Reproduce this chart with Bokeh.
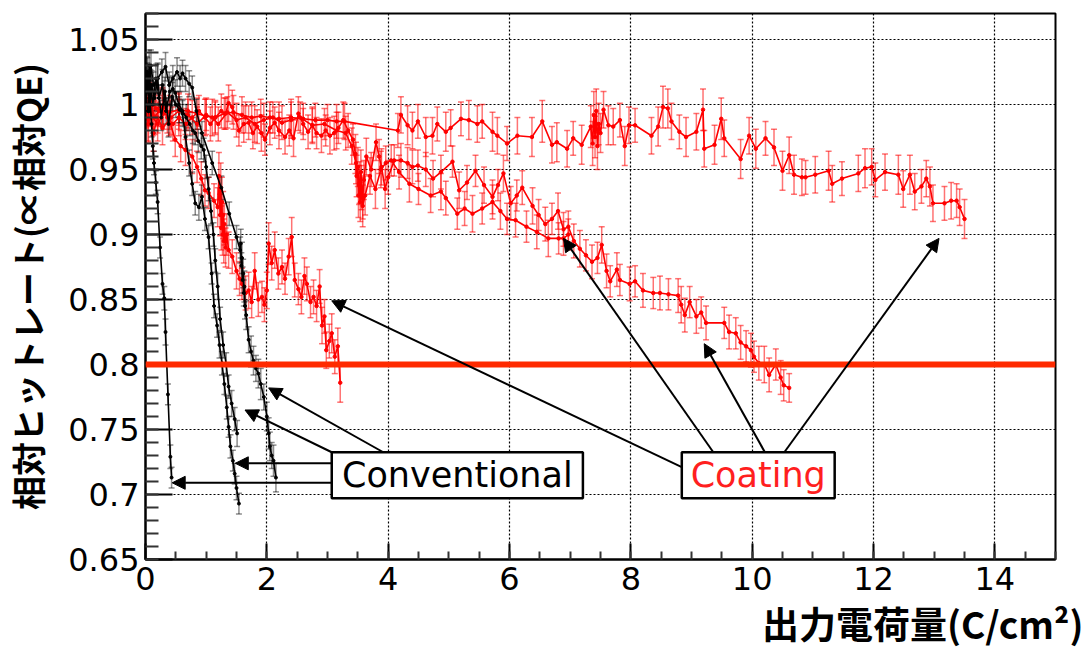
import math
from bokeh.plotting import figure
from bokeh.models import (ColumnDataSource, Whisker, TeeHead, Span, Arrow, NormalHead,
                          Label, BoxAnnotation, SingleIntervalTicker, CustomJSTickFormatter, Title)
from bokeh.embed import file_html
from bokeh.resources import INLINE

# ---------------- data ----------------
X_RANGE = (0, 15)
Y_RANGE = (0.65, 1.07)
THRESHOLD = 0.8

# Conventional (black)
b1_x = [0.00, 0.02, 0.04, 0.06, 0.08, 0.10, 0.12, 0.14, 0.17, 0.20,
        0.24, 0.28, 0.31, 0.33, 0.37, 0.41, 0.43]
b1_y = [1.005, 1.025, 1.010, 1.030, 1.000, 0.985, 0.968, 0.955, 0.940, 0.925,
        0.890, 0.862, 0.851, 0.825, 0.777, 0.729, 0.713]
b1_e = [0.010, 0.012, 0.010, 0.012, 0.010, 0.010, 0.010, 0.009, 0.009, 0.009,
        0.008, 0.008, 0.009, 0.010, 0.008, 0.009, 0.008]

b2_x = [0.00, 0.03, 0.06, 0.10, 0.15, 0.20, 0.26, 0.32, 0.38, 0.44,
        0.50, 0.56, 0.61, 0.66, 0.72, 0.77, 0.82, 0.88, 0.93, 0.98,
        1.04, 1.09, 1.13, 1.18, 1.22, 1.26, 1.30, 1.34, 1.37, 1.40,
        1.44, 1.47, 1.50, 1.54]
b2_y = [1.000, 1.020, 0.995, 1.015, 1.005, 1.020, 0.990, 1.010, 0.985, 1.006,
        1.000, 0.996, 0.993, 0.975, 0.955, 0.939, 0.924, 0.921, 0.929, 0.912,
        0.898, 0.870, 0.845, 0.830, 0.815, 0.801, 0.785, 0.767, 0.752, 0.737,
        0.726, 0.716, 0.705, 0.693]
b2_e = [0.010, 0.012, 0.010, 0.011, 0.010, 0.012, 0.010, 0.011, 0.010, 0.011,
        0.010, 0.010, 0.010, 0.009, 0.010, 0.009, 0.009, 0.010, 0.009, 0.009,
        0.009, 0.008, 0.009, 0.009, 0.010, 0.009, 0.008, 0.009, 0.008, 0.009,
        0.008, 0.008, 0.009, 0.008]

b3_x = [0.00, 0.04, 0.08, 0.12, 0.17, 0.22, 0.28, 0.34, 0.40, 0.45,
        0.49, 0.55, 0.61, 0.67, 0.73, 0.78, 0.82, 0.87, 0.92, 0.96,
        1.00, 1.04, 1.08, 1.12, 1.15, 1.19, 1.23, 1.28, 1.33, 1.37,
        1.42, 1.47, 1.51]
b3_y = [1.010, 0.995, 1.015, 1.000, 1.020, 1.005, 1.015, 0.995, 1.010, 1.012,
        1.009, 1.000, 0.995, 0.990, 0.985, 0.980, 0.978, 0.972, 0.968, 0.965,
        0.952, 0.935, 0.918, 0.900, 0.880, 0.860, 0.835, 0.815, 0.800, 0.783,
        0.770, 0.758, 0.747]
b3_e = [0.011, 0.010, 0.012, 0.010, 0.011, 0.010, 0.012, 0.010, 0.011, 0.010,
        0.010, 0.010, 0.009, 0.010, 0.009, 0.010, 0.009, 0.009, 0.010, 0.009,
        0.009, 0.009, 0.010, 0.009, 0.009, 0.010, 0.009, 0.010, 0.009, 0.009,
        0.010, 0.009, 0.010]

b4_x = [0.00, 0.03, 0.06, 0.09, 0.13, 0.20, 0.27, 0.33, 0.39, 0.45,
        0.52, 0.57, 0.61, 0.66, 0.72, 0.77, 0.84, 0.93, 1.10, 1.25,
        1.38, 1.50, 1.56, 1.57, 1.58, 1.59, 1.60, 1.61, 1.62, 1.63,
        1.64, 1.66, 1.70, 1.74, 1.78, 1.82, 1.86, 1.90, 1.95, 2.00,
        2.03, 2.05, 2.08, 2.11, 2.15]
b4_y = [1.000, 1.025, 1.010, 1.030, 1.015, 1.020, 1.025, 1.029, 1.015, 1.020,
        1.025, 1.020, 1.024, 1.020, 1.016, 1.013, 0.995, 0.978, 0.955, 0.936,
        0.916, 0.898, 0.888, 0.893, 0.876, 0.882, 0.865, 0.870, 0.855, 0.860,
        0.845, 0.838, 0.819, 0.810, 0.803, 0.797, 0.793, 0.785, 0.775, 0.760,
        0.747, 0.737, 0.730, 0.726, 0.713]
b4_e = [0.010, 0.011, 0.010, 0.012, 0.010, 0.011, 0.010, 0.011, 0.010, 0.010,
        0.011, 0.010, 0.010, 0.010, 0.010, 0.009, 0.009, 0.009, 0.009, 0.009,
        0.009, 0.009, 0.010, 0.011, 0.010, 0.012, 0.010, 0.011, 0.010, 0.012,
        0.010, 0.011, 0.010, 0.012, 0.011, 0.010, 0.011, 0.012, 0.010, 0.011,
        0.012, 0.011, 0.010, 0.012, 0.011]

# Coating (red)
c1_x = [0.00, 0.04, 0.08, 0.13, 0.20, 0.28, 0.39, 0.49, 0.58, 0.66,
        0.77, 0.85, 0.92, 0.98, 1.04, 1.13, 1.19, 1.21, 1.23, 1.24,
        1.25, 1.26, 1.27, 1.28, 1.29, 1.30, 1.32, 1.34, 1.37, 1.43,
        1.50, 1.55, 1.59, 1.65, 1.70, 1.75, 1.80, 1.86, 1.92, 1.96,
        2.00, 2.03, 2.08, 2.13, 2.19, 2.25, 2.30, 2.36, 2.41, 2.46,
        2.52, 2.57, 2.62, 2.66, 2.72, 2.77, 2.82, 2.87, 2.91, 2.95,
        2.98, 3.03, 3.07, 3.12, 3.17, 3.21]
c1_y = [1.000, 0.985, 0.995, 0.978, 0.990, 0.982, 0.988, 0.973, 0.968, 0.965,
        0.960, 0.952, 0.943, 0.934, 0.932, 0.926, 0.921, 0.945, 0.915, 0.935,
        0.905, 0.925, 0.900, 0.915, 0.895, 0.908, 0.890, 0.900, 0.888, 0.883,
        0.872, 0.866, 0.862, 0.855, 0.857, 0.848, 0.872, 0.850, 0.852, 0.846,
        0.857, 0.893, 0.878, 0.888, 0.870, 0.875, 0.866, 0.883, 0.898, 0.865,
        0.858, 0.852, 0.868, 0.862, 0.848, 0.852, 0.845, 0.860, 0.830, 0.837,
        0.811, 0.818, 0.824, 0.806, 0.814, 0.786]
c1_e = [0.012, 0.013, 0.012, 0.014, 0.012, 0.013, 0.012, 0.013, 0.012, 0.012,
        0.013, 0.012, 0.013, 0.012, 0.012, 0.013, 0.015, 0.018, 0.016, 0.020,
        0.017, 0.019, 0.016, 0.018, 0.017, 0.016, 0.015, 0.016, 0.014, 0.013,
        0.014, 0.013, 0.012, 0.013, 0.014, 0.012, 0.014, 0.013, 0.012, 0.013,
        0.014, 0.016, 0.013, 0.014, 0.012, 0.013, 0.012, 0.014, 0.015, 0.013,
        0.012, 0.013, 0.014, 0.013, 0.012, 0.013, 0.012, 0.013, 0.014, 0.013,
        0.014, 0.013, 0.015, 0.013, 0.014, 0.015]

c2_x = [0.00, 0.05, 0.10, 0.15, 0.22, 0.28, 0.36, 0.45, 0.55, 0.66,
        0.77, 0.88, 0.98, 1.07, 1.15, 1.25, 1.32, 1.37, 1.43, 1.54,
        1.62, 1.70, 1.77, 1.84, 1.91, 1.97, 2.05, 2.13, 2.20, 2.30,
        2.37, 2.44, 2.52, 2.60, 2.68, 2.75, 2.82, 2.90, 2.97, 3.04,
        3.11, 3.18, 3.26, 3.34, 3.42,
        3.46, 3.48, 3.50, 3.51, 3.53, 3.54, 3.56, 3.58, 3.60, 3.64,
        3.72, 3.80, 3.85, 3.89, 3.95, 4.00, 4.10, 4.21, 4.32, 4.40,
        4.49, 4.62, 4.74, 4.87, 5.06, 5.17, 5.30, 5.44, 5.58, 5.72,
        5.81, 5.90, 6.02, 6.12, 6.21, 6.38, 6.48, 6.59, 6.70, 6.80,
        6.89, 6.97, 7.06, 7.16, 7.26, 7.36, 7.45, 7.52, 7.60, 7.66,
        7.77, 7.82, 7.98, 8.07, 8.20, 8.37, 8.48, 8.62, 8.78, 8.83,
        8.89, 8.97, 9.08, 9.16, 9.24, 9.54, 9.62, 9.73, 9.81, 9.90,
        9.98, 10.03, 10.11, 10.20, 10.28, 10.39, 10.47, 10.52, 10.61]
c2_y = [1.000, 0.985, 1.000, 0.990, 0.995, 0.998, 0.990, 0.985, 0.990, 0.985,
        0.990, 0.995, 0.990, 0.985, 0.990, 0.995, 0.993, 1.001, 0.998, 0.980,
        0.985, 0.986, 0.978, 0.983, 0.978, 0.973, 0.982, 0.986, 0.980, 0.975,
        0.980, 0.974, 0.993, 0.985, 0.979, 0.984, 0.978, 0.976, 0.980, 0.976,
        0.978, 0.982, 0.988, 0.980, 0.973,
        0.962, 0.945, 0.952, 0.930, 0.940, 0.925, 0.936, 0.928, 0.942, 0.960,
        0.950, 0.971, 0.960, 0.952, 0.935, 0.944, 0.957, 0.957, 0.955, 0.952,
        0.953, 0.950, 0.943, 0.948, 0.956, 0.934, 0.940, 0.949, 0.938, 0.929,
        0.938, 0.947, 0.924, 0.930, 0.936, 0.922, 0.915, 0.908, 0.912, 0.918,
        0.904, 0.906, 0.895, 0.889, 0.884, 0.879, 0.882, 0.892, 0.872, 0.864,
        0.873, 0.865, 0.862, 0.864, 0.857, 0.855, 0.855, 0.854, 0.853, 0.846,
        0.838, 0.848, 0.837, 0.840, 0.832, 0.832, 0.825, 0.824, 0.817, 0.814,
        0.811, 0.806, 0.801, 0.800, 0.792, 0.800, 0.790, 0.784, 0.782]
c2_e = [0.012, 0.014, 0.011, 0.013, 0.012, 0.015, 0.012, 0.013, 0.014, 0.012,
        0.013, 0.012, 0.014, 0.013, 0.012, 0.013, 0.012, 0.014, 0.013, 0.012,
        0.014, 0.013, 0.012, 0.013, 0.014, 0.012, 0.013, 0.012, 0.014, 0.013,
        0.012, 0.014, 0.013, 0.012, 0.013, 0.014, 0.012, 0.013, 0.012, 0.014,
        0.013, 0.012, 0.014, 0.013, 0.012,
        0.015, 0.016, 0.015, 0.017, 0.016, 0.015, 0.017, 0.016, 0.015, 0.014,
        0.013, 0.014, 0.013, 0.014, 0.015, 0.013, 0.012, 0.013, 0.012, 0.013,
        0.012, 0.013, 0.014, 0.013, 0.012, 0.014, 0.013, 0.012, 0.014, 0.013,
        0.012, 0.014, 0.013, 0.012, 0.013, 0.014, 0.012, 0.013, 0.012, 0.014,
        0.013, 0.012, 0.013, 0.014, 0.012, 0.013, 0.012, 0.014, 0.013, 0.012,
        0.013, 0.012, 0.013, 0.012, 0.013, 0.012, 0.013, 0.012, 0.013, 0.014,
        0.013, 0.012, 0.013, 0.012, 0.013, 0.012, 0.013, 0.012, 0.013, 0.012,
        0.013, 0.012, 0.013, 0.014, 0.013, 0.012, 0.013, 0.012, 0.011]

c3_x = [0.00, 0.06, 0.12, 0.20, 0.30, 0.42, 0.55, 0.70, 0.85, 1.00,
        1.10, 1.20, 1.35, 1.50, 1.65, 1.80, 1.95, 2.10, 2.25, 2.40,
        2.55, 2.75, 2.95, 3.15, 3.30, 3.40, 3.47, 3.52, 3.55, 3.58,
        3.62, 3.70, 3.79, 3.88, 3.96, 4.05, 4.18, 4.35, 4.50, 4.70,
        4.87, 4.95, 5.14, 5.26, 5.39, 5.55, 5.72, 5.85, 5.96, 6.10,
        6.28, 6.45, 6.64, 6.81, 6.89, 6.97]
c3_y = [0.995, 1.005, 0.990, 0.985, 0.993, 0.990, 0.995, 0.992, 0.985, 0.992,
        0.990, 0.985, 0.994, 0.988, 0.990, 0.985, 0.988, 0.990, 0.986, 0.988,
        0.990, 0.984, 0.985, 0.980, 0.978, 0.968, 0.955, 0.938, 0.948, 0.922,
        0.930, 0.945, 0.935, 0.950, 0.955, 0.957, 0.948, 0.939, 0.935, 0.930,
        0.933, 0.928, 0.916, 0.920, 0.916, 0.920, 0.925, 0.918, 0.912, 0.911,
        0.906, 0.902, 0.897, 0.897, 0.897, 0.900]
c3_e = [0.013, 0.012, 0.014, 0.013, 0.012, 0.013, 0.014, 0.012, 0.013, 0.012,
        0.014, 0.013, 0.012, 0.013, 0.012, 0.014, 0.013, 0.012, 0.013, 0.014,
        0.012, 0.013, 0.012, 0.014, 0.013, 0.014, 0.016, 0.015, 0.017, 0.016,
        0.015, 0.014, 0.015, 0.014, 0.013, 0.012, 0.013, 0.014, 0.012, 0.013,
        0.014, 0.013, 0.012, 0.013, 0.014, 0.012, 0.013, 0.014, 0.012, 0.013,
        0.012, 0.013, 0.014, 0.012, 0.013, 0.012]

c4_x = [0.00, 0.08, 0.17, 0.28, 0.40, 0.55, 0.70, 0.85, 1.00, 1.15,
        1.30, 1.45, 1.59, 1.75, 1.90, 2.05, 2.20, 2.40, 2.60, 2.80,
        3.00, 3.15, 3.28, 4.16, 4.21, 4.32, 4.40, 4.49, 4.62, 4.73,
        4.81, 4.95, 5.03, 5.20, 5.33, 5.47, 5.55, 5.72, 5.80, 5.96,
        6.13, 6.37, 6.54, 6.70, 6.78, 6.95, 7.05, 7.19, 7.34, 7.37,
        7.39, 7.41, 7.43, 7.45, 7.47, 7.50, 7.55, 7.63, 7.71, 7.82,
        7.90, 7.97, 8.07, 8.34, 8.45, 8.53, 8.61, 8.67, 8.80, 8.91,
        9.08, 9.19, 9.21, 9.38, 9.49, 9.54, 9.81, 9.95, 10.06, 10.22,
        10.36, 10.50, 10.61, 10.69, 10.82, 10.88, 11.04, 11.26, 11.32, 11.48,
        11.75, 11.86, 11.97, 12.03, 12.19, 12.41, 12.49, 12.60, 12.68, 12.79,
        12.87, 12.93, 12.98, 13.17, 13.28, 13.37, 13.42, 13.50]
c4_y = [0.995, 1.002, 0.997, 0.998, 0.994, 0.996, 0.995, 0.993, 0.991, 0.990,
        0.993, 0.994, 0.992, 0.990, 0.991, 0.990, 0.989, 0.990, 0.989, 0.988,
        0.988, 0.987, 0.987, 0.980, 0.992, 0.984, 0.980, 0.987, 0.975, 0.976,
        0.985, 0.979, 0.982, 0.989, 0.988, 0.985, 0.987, 0.979, 0.976, 0.970,
        0.976, 0.975, 0.987, 0.969, 0.971, 0.966, 0.974, 0.969, 0.983, 0.970,
        0.992, 0.975, 0.995, 0.968, 0.985, 0.978, 0.996, 0.984, 0.983, 0.988,
        0.968, 0.984, 0.984, 0.976, 0.983, 0.998, 0.997, 0.987, 0.979, 0.975,
        0.979, 0.996, 0.966, 0.969, 0.989, 0.974, 0.958, 0.976, 0.966, 0.974,
        0.967, 0.949, 0.961, 0.946, 0.944, 0.944, 0.946, 0.949, 0.939, 0.943,
        0.947, 0.951, 0.952, 0.942, 0.948, 0.946, 0.935, 0.946, 0.933, 0.937,
        0.943, 0.937, 0.924, 0.924, 0.926, 0.926, 0.921, 0.912]
c4_e = [0.012, 0.013, 0.012, 0.014, 0.013, 0.012, 0.013, 0.012, 0.014, 0.013,
        0.012, 0.013, 0.014, 0.012, 0.013, 0.012, 0.013, 0.014, 0.012, 0.013,
        0.012, 0.013, 0.014, 0.013, 0.014, 0.015, 0.014, 0.013, 0.015, 0.014,
        0.013, 0.015, 0.014, 0.013, 0.015, 0.014, 0.013, 0.015, 0.014, 0.013,
        0.014, 0.015, 0.016, 0.014, 0.015, 0.014, 0.013, 0.015, 0.016, 0.017,
        0.018, 0.016, 0.017, 0.018, 0.016, 0.015, 0.014, 0.015, 0.014, 0.013,
        0.015, 0.014, 0.013, 0.014, 0.015, 0.016, 0.015, 0.014, 0.013, 0.015,
        0.014, 0.016, 0.014, 0.015, 0.016, 0.014, 0.015, 0.014, 0.015, 0.013,
        0.014, 0.015, 0.014, 0.015, 0.014, 0.013, 0.014, 0.015, 0.014, 0.013,
        0.014, 0.015, 0.014, 0.013, 0.014, 0.015, 0.014, 0.015, 0.014, 0.013,
        0.014, 0.015, 0.014, 0.013, 0.014, 0.013, 0.014, 0.015]

# annotation anchors (data coordinates)
conv_box = dict(left=3.07, right=7.21, bottom=0.6972, top=0.7325)
coat_box = dict(left=8.84, right=11.36, bottom=0.6972, top=0.7325)
conv_arrow_x0 = [3.07, 3.07, 3.07, 3.92]
conv_arrow_y0 = [0.709, 0.724, 0.7325, 0.7325]
conv_arrow_x1 = [0.44, 1.48, 1.64, 2.03]
conv_arrow_y1 = [0.709, 0.724, 0.765, 0.782]
coat_arrow_x0 = [8.84, 9.36, 10.21, 10.53]
coat_arrow_y0 = [0.721, 0.7325, 0.7325, 0.7325]
coat_arrow_x1 = [3.07, 6.89, 9.21, 13.08]
coat_arrow_y1 = [0.849, 0.897, 0.816, 0.897]

X_TITLE = "出力電荷量(C/cm²)"
Y_TITLE = "相対ヒットレート(∝相対QE)"

# ---------------- figure ----------------
p = figure(width=1089, height=650, x_range=X_RANGE, y_range=Y_RANGE,
           output_backend="svg", toolbar_location=None,
           min_border_left=143, min_border_right=34, min_border_top=13, min_border_bottom=89)
p.background_fill_color = "white"
p.border_fill_color = "white"
p.outline_line_color = "black"
p.outline_line_width = 2

p.xaxis.ticker = SingleIntervalTicker(interval=2, num_minor_ticks=4)
p.yaxis.ticker = SingleIntervalTicker(interval=0.05, num_minor_ticks=5)
p.yaxis.formatter = CustomJSTickFormatter(code="return String(Math.round(tick*100)/100);")

for ax in (p.xaxis[0], p.yaxis[0]):
    ax.axis_line_width = 2
    ax.axis_line_color = "black"
    ax.major_tick_line_width = 2
    ax.minor_tick_line_width = 2
    ax.major_tick_line_color = "black"
    ax.minor_tick_line_color = "#333333"
    ax.major_tick_out = 0
    ax.minor_tick_out = 0
    ax.major_label_text_font = "DejaVu Sans"
    ax.major_label_text_font_size = "32px"
    ax.major_label_text_color = "black"
p.yaxis.major_tick_in = 27
p.yaxis.minor_tick_in = 13
p.xaxis.major_tick_in = 16
p.xaxis.minor_tick_in = 8
p.yaxis.major_label_standoff = 6
p.xaxis.major_label_standoff = 7

p.yaxis.axis_label = Y_TITLE
p.yaxis.axis_label_text_font = "Noto Sans CJK JP"
p.yaxis.axis_label_text_font_style = "bold"
p.yaxis.axis_label_text_font_size = "34px"
p.yaxis.axis_label_text_color = "black"
p.yaxis.axis_label_standoff = 13

p.add_layout(Title(text=X_TITLE, align="right", offset=-28, standoff=2,
                   text_font="Noto Sans CJK JP", text_font_style="bold",
                   text_font_size="37px", text_color="black"), "below")

for g in (p.xgrid[0], p.ygrid[0]):
    g.grid_line_color = "black"
    g.grid_line_dash = "2 2"
    g.grid_line_width = 1.2

def draw_series(xs, ys, es, color, err_alpha, msize):
    assert len(xs) == len(ys) == len(es), (len(xs), len(ys), len(es))
    src = ColumnDataSource(dict(x=xs, y=ys,
                                lo=[y - e for y, e in zip(ys, es)],
                                hi=[y + e for y, e in zip(ys, es)]))
    w = Whisker(source=src, base="x", lower="lo", upper="hi", dimension="height",
                line_color=color, line_alpha=err_alpha, line_width=1.5,
                lower_head=TeeHead(size=6, line_color=color, line_alpha=err_alpha, line_width=1.5),
                upper_head=TeeHead(size=6, line_color=color, line_alpha=err_alpha, line_width=1.5))
    p.add_layout(w)
    p.line("x", "y", source=src, line_color=color, line_width=1.6)
    p.scatter("x", "y", source=src, marker="circle", size=msize,
              fill_color=color, line_color=color)

RED = "#ff0000"
for xs, ys, es in [(c4_x, c4_y, c4_e), (c3_x, c3_y, c3_e), (c2_x, c2_y, c2_e), (c1_x, c1_y, c1_e)]:
    draw_series(xs, ys, es, RED, 0.55, 3.5)
for xs, ys, es in [(b1_x, b1_y, b1_e), (b2_x, b2_y, b2_e), (b3_x, b3_y, b3_e), (b4_x, b4_y, b4_e)]:
    draw_series(xs, ys, es, "black", 0.45, 3)

p.add_layout(Span(location=THRESHOLD, dimension="width", line_color="#ff2a00", line_width=6))

for x0s, y0s, x1s, y1s in [(conv_arrow_x0, conv_arrow_y0, conv_arrow_x1, conv_arrow_y1),
                           (coat_arrow_x0, coat_arrow_y0, coat_arrow_x1, coat_arrow_y1)]:
    asrc = ColumnDataSource(dict(x0=x0s, y0=y0s, x1=x1s, y1=y1s))
    p.add_layout(Arrow(source=asrc, x_start="x0", y_start="y0", x_end="x1", y_end="y1",
                       line_color="black", line_width=2,
                       end=NormalHead(size=13, fill_color="black", line_color="black", line_width=1)))

for box, txt, col in [(conv_box, "Conventional", "black"), (coat_box, "Coating", "#ff1f1f")]:
    p.add_layout(BoxAnnotation(left=box["left"], right=box["right"], bottom=box["bottom"], top=box["top"],
                               fill_color="white", fill_alpha=1.0, line_color="black", line_width=2.5,
                               line_alpha=1.0))
    p.add_layout(Label(x=(box["left"] + box["right"]) / 2, y=(box["bottom"] + box["top"]) / 2, text=txt,
                       text_align="center", text_baseline="middle",
                       text_font="DejaVu Sans", text_font_size="35px", text_color=col))

open("out.html", "w").write(file_html(p, INLINE))
